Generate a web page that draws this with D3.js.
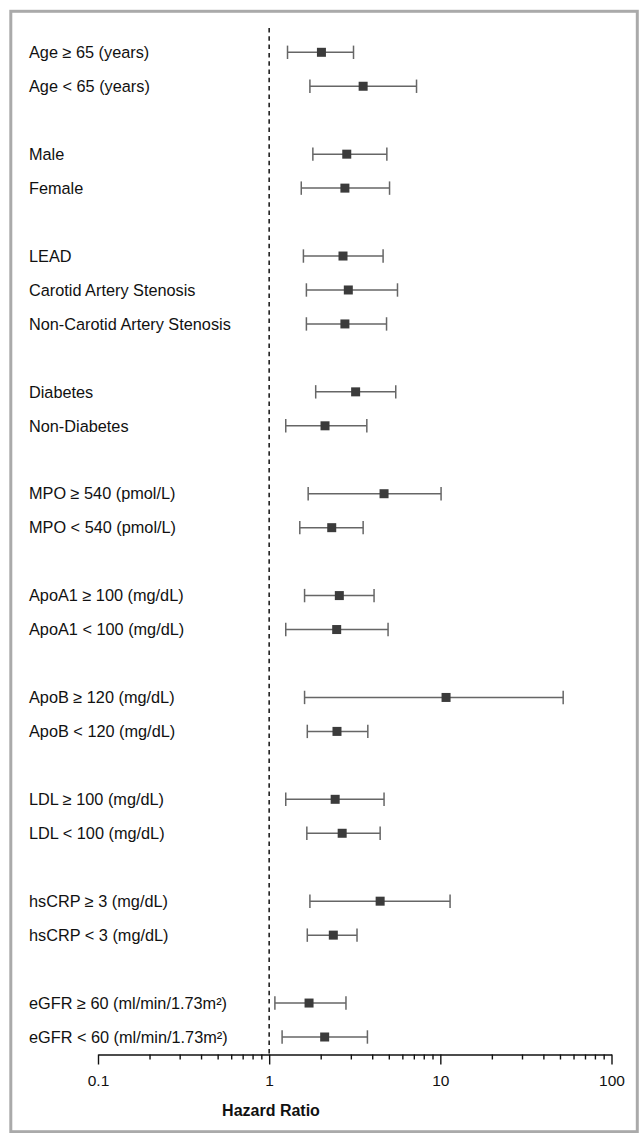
<!DOCTYPE html>
<html>
<head>
<meta charset="utf-8">
<script src="https://cdn.jsdelivr.net/npm/d3@7"></script>
<style>
  body { margin: 0; background: #fff; }
  svg text { font-family: "Liberation Sans", Arial, Helvetica, sans-serif; fill: #111; }
</style>
</head>
<body>
<div id="chart"></div>
<script>
// Subgroup rows, top to bottom. Rows sharing a group sit together,
// an empty row separates groups.
var labels = [
  'Age \u2265 65 (years)', 'Age < 65 (years)',
  'Male', 'Female',
  'LEAD', 'Carotid Artery Stenosis', 'Non-Carotid Artery Stenosis',
  'Diabetes', 'Non-Diabetes',
  'MPO \u2265 540 (pmol/L)', 'MPO < 540 (pmol/L)',
  'ApoA1 \u2265 100 (mg/dL)', 'ApoA1 < 100 (mg/dL)',
  'ApoB \u2265 120 (mg/dL)', 'ApoB < 120 (mg/dL)',
  'LDL \u2265 100 (mg/dL)', 'LDL < 100 (mg/dL)',
  'hsCRP \u2265 3 (mg/dL)', 'hsCRP < 3 (mg/dL)',
  'eGFR \u2265 60 (ml/min/1.73m\u00b2)', 'eGFR < 60 (ml/min/1.73m\u00b2)'
];
var groups = [
  'age', 'age', 'sex', 'sex', 'pad', 'pad', 'pad', 'dm', 'dm',
  'mpo', 'mpo', 'apoa1', 'apoa1', 'apob', 'apob', 'ldl', 'ldl',
  'crp', 'crp', 'egfr', 'egfr'
];
var hazard = [2.02, 3.54, 2.84, 2.77, 2.70, 2.90, 2.77, 3.20, 2.12, 4.69, 2.32,
              2.57, 2.48, 10.8, 2.49, 2.43, 2.67, 4.45, 2.37, 1.71, 2.11];
var lower  = [1.28, 1.73, 1.80, 1.54, 1.585, 1.65, 1.65, 1.87, 1.25, 1.69, 1.51,
              1.61, 1.25, 1.61, 1.67, 1.25, 1.66, 1.73, 1.67, 1.08, 1.19];
var upper  = [3.11, 7.26, 4.87, 5.05, 4.63, 5.62, 4.85, 5.49, 3.72, 10.1, 3.54,
              4.10, 4.95, 52.2, 3.77, 4.69, 4.45, 11.4, 3.26, 2.81, 3.75];
var majorTicks = [0.1, 1, 10, 100];
var axisTitle = 'Hazard Ratio';

var width = 639, height = 1133;

var layout = {
  frame: { x: 10.8, y: 11.3, w: 626.5, h: 1120.4 },
  labelX: 29,
  rowTop: 52.3,
  rowBottom: 1037,
  axisY: 1054.5,
  refTop: 28,
  square: 9,
  cap: 6.7
};

function translate(x, y) {
  return 'translate(' + x + ', ' + y + ')';
}

// slot index for each row, leaving a blank row between groups
var slots = [];
{
  let s = 0;
  groups.forEach(function(g, i) {
    if (i > 0 && g !== groups[i - 1]) s += 1;
    slots.push(s);
    s += 1;
  });
}

var data = labels.map(function(d, i) {
  return { label: d, slot: slots[i], hr: hazard[i], low: lower[i], high: upper[i] };
});

var x = d3.scaleLog()
  .domain([0.1, 100])
  .range([98, 611.5]);

var y = d3.scaleLinear()
  .domain([0, d3.max(slots)])
  .range([layout.rowTop, layout.rowBottom]);

var svg = d3.select('#chart').append('svg')
  .attr('width', width)
  .attr('height', height);

// frame
svg.append('rect')
  .attr('x', layout.frame.x)
  .attr('y', layout.frame.y)
  .attr('width', layout.frame.w)
  .attr('height', layout.frame.h)
  .attr('fill', '#fff')
  .attr('stroke', '#aaa')
  .attr('stroke-width', 3);

// reference line at HR = 1
svg.append('line')
  .attr('x1', x(1)).attr('x2', x(1))
  .attr('y1', layout.refTop).attr('y2', layout.axisY)
  .attr('stroke', '#222')
  .attr('stroke-width', 1.6)
  .attr('stroke-dasharray', '4.5, 3.8');

// row labels
svg.append('g').selectAll('text').data(data).enter()
  .append('text')
    .attr('x', layout.labelX)
    .attr('y', function(d) { return y(d.slot); })
    .attr('dy', '0.35em')
    .style('font-size', '16.3px')
    .text(function(d) { return d.label; });

// confidence intervals
var rows = svg.append('g').selectAll('.row').data(data).enter()
  .append('g')
    .classed('row', true)
    .attr('transform', function(d) { return translate(0, y(d.slot)); });

rows.append('line')
  .attr('x1', function(d) { return x(d.low); })
  .attr('x2', function(d) { return x(d.high); })
  .attr('y1', 0).attr('y2', 0)
  .attr('stroke', '#666')
  .attr('stroke-width', 1.5);

['low', 'high'].forEach(function(k) {
  rows.append('line')
    .attr('x1', function(d) { return x(d[k]); })
    .attr('x2', function(d) { return x(d[k]); })
    .attr('y1', -layout.cap).attr('y2', layout.cap)
    .attr('stroke', '#666')
    .attr('stroke-width', 1.5);
});

rows.append('rect')
  .attr('x', function(d) { return x(d.hr) - layout.square / 2; })
  .attr('y', -layout.square / 2)
  .attr('width', layout.square)
  .attr('height', layout.square)
  .attr('fill', '#3b3b3b');

// axis: minor ticks first, then major ticks with labels
var minorTicks = [];
majorTicks.slice(0, -1).forEach(function(m) {
  for (var k = 2; k < 10; k++) minorTicks.push(m * k);
});

var axisG = svg.append('g')
  .attr('transform', translate(0, layout.axisY));

axisG.append('g')
  .call(d3.axisBottom(x).tickValues(minorTicks).tickSize(5).tickSizeOuter(0).tickFormat(''))
  .call(function(g) { g.select('.domain').remove(); });

axisG.append('g')
  .call(d3.axisBottom(x).tickValues(majorTicks).tickSize(10).tickSizeOuter(0).tickPadding(10)
    .tickFormat(function(d) { return String(d); }));

axisG.selectAll('line, path')
  .attr('stroke', '#111')
  .attr('stroke-width', 1.4);

axisG.selectAll('text')
  .style('font-size', '15.5px')
  .attr('fill', '#111');

svg.append('text')
  .attr('x', 271)
  .attr('y', 1116)
  .attr('text-anchor', 'middle')
  .style('font-size', '16px')
  .style('font-weight', 'bold')
  .text(axisTitle);
</script>
</body>
</html>
